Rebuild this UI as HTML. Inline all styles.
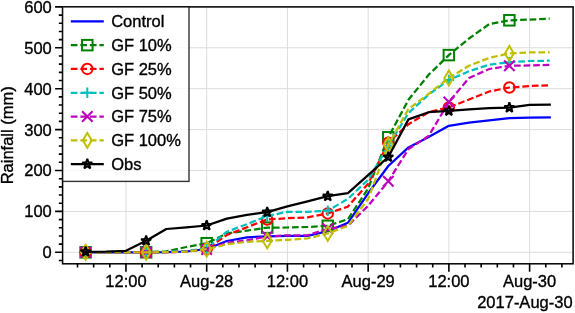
<!DOCTYPE html><html><head><meta charset="utf-8"><style>html,body{margin:0;padding:0;background:#fff;}svg{display:block;will-change:transform;}text{font-family:"Liberation Sans",sans-serif;stroke:#000;stroke-width:0.35px;}</style></head><body>
<svg width="575" height="313" viewBox="0 0 575 313">
<rect width="575" height="313" fill="#fff"/>
<path d="M62.60,252.30H573.10M62.60,211.40H573.10M62.60,170.50H573.10M62.60,129.60H573.10M62.60,88.70H573.10M62.60,47.80H573.10M62.60,6.90H573.10M125.96,6.90V263.80M206.69,6.90V263.80M287.42,6.90V263.80M368.15,6.90V263.80M448.88,6.90V263.80M529.61,6.90V263.80" stroke="#dcdcdc" stroke-width="1" fill="none"/>
<polyline points="85.60,252.30 105.78,252.30 125.96,252.30 146.14,252.30 166.32,252.20 186.50,251.50 206.68,249.00 226.86,241.00 247.04,237.30 267.22,236.30 287.40,235.80 307.58,235.80 327.76,231.20 347.94,222.80 368.12,193.30 388.30,166.00 408.48,147.40 428.66,137.00 448.84,125.80 469.02,122.60 489.20,120.40 509.38,118.10 529.56,117.70 549.74,117.50" fill="none" stroke="#0000ff" stroke-width="2.25" stroke-linecap="square" stroke-linejoin="round"/>
<polyline points="85.60,252.30 105.78,252.30 125.96,252.30 146.14,252.30 166.32,251.30 186.50,247.00 206.68,243.20 226.86,233.50 247.04,230.60 267.22,227.60 287.40,227.50 307.58,227.00 327.76,225.80 347.94,219.20 368.12,188.50 388.30,137.30 408.48,99.80 428.66,74.80 448.84,55.10 469.02,38.50 489.20,24.10 509.38,20.30 529.56,19.60 549.74,18.60" fill="none" stroke="#008000" stroke-width="2.25" stroke-dasharray="6.66,2.88" stroke-linejoin="round"/>
<rect x="80.35" y="247.05" width="10.5" height="10.5" fill="none" stroke="#008000" stroke-width="2.0"/>
<rect x="140.89" y="247.05" width="10.5" height="10.5" fill="none" stroke="#008000" stroke-width="2.0"/>
<rect x="201.43" y="237.95" width="10.5" height="10.5" fill="none" stroke="#008000" stroke-width="2.0"/>
<rect x="261.97" y="222.35" width="10.5" height="10.5" fill="none" stroke="#008000" stroke-width="2.0"/>
<rect x="322.51" y="220.55" width="10.5" height="10.5" fill="none" stroke="#008000" stroke-width="2.0"/>
<rect x="383.05" y="132.05" width="10.5" height="10.5" fill="none" stroke="#008000" stroke-width="2.0"/>
<rect x="443.59" y="49.85" width="10.5" height="10.5" fill="none" stroke="#008000" stroke-width="2.0"/>
<rect x="504.13" y="15.05" width="10.5" height="10.5" fill="none" stroke="#008000" stroke-width="2.0"/>
<polyline points="85.60,252.30 105.78,252.30 125.96,252.30 146.14,252.30 166.32,252.20 186.50,251.50 206.68,249.00 226.86,235.00 247.04,227.20 267.22,219.50 287.40,218.20 307.58,217.40 327.76,213.40 347.94,206.60 368.12,183.70 388.30,142.70 408.48,124.20 428.66,112.20 448.84,107.40 469.02,99.50 489.20,91.50 509.38,87.50 529.56,86.10 549.74,85.20" fill="none" stroke="#ff0000" stroke-width="2.25" stroke-dasharray="6.66,2.88" stroke-linejoin="round"/>
<circle cx="85.60" cy="252.30" r="5.25" fill="none" stroke="#ff0000" stroke-width="2.0"/>
<circle cx="146.14" cy="252.30" r="5.25" fill="none" stroke="#ff0000" stroke-width="2.0"/>
<circle cx="206.68" cy="249.00" r="5.25" fill="none" stroke="#ff0000" stroke-width="2.0"/>
<circle cx="267.22" cy="219.50" r="5.25" fill="none" stroke="#ff0000" stroke-width="2.0"/>
<circle cx="327.76" cy="213.40" r="5.25" fill="none" stroke="#ff0000" stroke-width="2.0"/>
<circle cx="388.30" cy="142.70" r="5.25" fill="none" stroke="#ff0000" stroke-width="2.0"/>
<circle cx="448.84" cy="107.40" r="5.25" fill="none" stroke="#ff0000" stroke-width="2.0"/>
<circle cx="509.38" cy="87.50" r="5.25" fill="none" stroke="#ff0000" stroke-width="2.0"/>
<polyline points="85.60,252.30 105.78,252.30 125.96,252.30 146.14,252.30 166.32,252.00 186.50,251.00 206.68,248.30 226.86,231.70 247.04,224.20 267.22,216.00 287.40,211.80 307.58,211.80 327.76,210.70 347.94,198.80 368.12,179.80 388.30,145.80 408.48,113.00 428.66,94.60 448.84,80.00 469.02,71.30 489.20,64.60 509.38,62.30 529.56,61.00 549.74,60.70" fill="none" stroke="#00bfbf" stroke-width="2.25" stroke-dasharray="6.66,2.88" stroke-linejoin="round"/>
<path d="M80.35,252.30H90.85M85.60,247.05V257.55" stroke="#00bfbf" stroke-width="2.0" fill="none"/>
<path d="M140.89,252.30H151.39M146.14,247.05V257.55" stroke="#00bfbf" stroke-width="2.0" fill="none"/>
<path d="M201.43,248.30H211.93M206.68,243.05V253.55" stroke="#00bfbf" stroke-width="2.0" fill="none"/>
<path d="M261.97,216.00H272.47M267.22,210.75V221.25" stroke="#00bfbf" stroke-width="2.0" fill="none"/>
<path d="M322.51,210.70H333.01M327.76,205.45V215.95" stroke="#00bfbf" stroke-width="2.0" fill="none"/>
<path d="M383.05,145.80H393.55M388.30,140.55V151.05" stroke="#00bfbf" stroke-width="2.0" fill="none"/>
<path d="M443.59,80.00H454.09M448.84,74.75V85.25" stroke="#00bfbf" stroke-width="2.0" fill="none"/>
<path d="M504.13,62.30H514.63M509.38,57.05V67.55" stroke="#00bfbf" stroke-width="2.0" fill="none"/>
<polyline points="85.60,252.30 105.78,252.30 125.96,252.30 146.14,252.30 166.32,252.20 186.50,251.60 206.68,249.50 226.86,242.80 247.04,240.30 267.22,236.50 287.40,235.30 307.58,235.30 327.76,228.80 347.94,225.70 368.12,205.80 388.30,181.30 408.48,149.00 428.66,136.00 448.84,102.00 469.02,78.00 489.20,69.00 509.38,65.80 529.56,65.40 549.74,64.90" fill="none" stroke="#bf00bf" stroke-width="2.25" stroke-dasharray="6.66,2.88" stroke-linejoin="round"/>
<path d="M80.35,247.05L90.85,257.55M80.35,257.55L90.85,247.05" stroke="#bf00bf" stroke-width="2.0" fill="none"/>
<path d="M140.89,247.05L151.39,257.55M140.89,257.55L151.39,247.05" stroke="#bf00bf" stroke-width="2.0" fill="none"/>
<path d="M201.43,244.25L211.93,254.75M201.43,254.75L211.93,244.25" stroke="#bf00bf" stroke-width="2.0" fill="none"/>
<path d="M261.97,231.25L272.47,241.75M261.97,241.75L272.47,231.25" stroke="#bf00bf" stroke-width="2.0" fill="none"/>
<path d="M322.51,223.55L333.01,234.05M322.51,234.05L333.01,223.55" stroke="#bf00bf" stroke-width="2.0" fill="none"/>
<path d="M383.05,176.05L393.55,186.55M383.05,186.55L393.55,176.05" stroke="#bf00bf" stroke-width="2.0" fill="none"/>
<path d="M443.59,96.75L454.09,107.25M443.59,107.25L454.09,96.75" stroke="#bf00bf" stroke-width="2.0" fill="none"/>
<path d="M504.13,60.55L514.63,71.05M504.13,71.05L514.63,60.55" stroke="#bf00bf" stroke-width="2.0" fill="none"/>
<polyline points="85.60,252.30 105.78,252.30 125.96,252.30 146.14,252.30 166.32,252.20 186.50,251.60 206.68,249.20 226.86,244.30 247.04,241.80 267.22,240.80 287.40,239.80 307.58,238.50 327.76,233.50 347.94,225.80 368.12,199.00 388.30,144.80 408.48,109.00 428.66,93.80 448.84,78.00 469.02,65.70 489.20,57.90 509.38,53.40 529.56,52.40 549.74,52.30" fill="none" stroke="#bfbf00" stroke-width="2.25" stroke-dasharray="6.66,2.88" stroke-linejoin="round"/>
<path d="M85.60,244.88L90.05,252.30L85.60,259.72L81.15,252.30Z" stroke="#bfbf00" stroke-width="2.0" fill="none" stroke-linejoin="miter"/>
<path d="M146.14,244.88L150.59,252.30L146.14,259.72L141.69,252.30Z" stroke="#bfbf00" stroke-width="2.0" fill="none" stroke-linejoin="miter"/>
<path d="M206.68,241.78L211.13,249.20L206.68,256.62L202.23,249.20Z" stroke="#bfbf00" stroke-width="2.0" fill="none" stroke-linejoin="miter"/>
<path d="M267.22,233.38L271.67,240.80L267.22,248.22L262.77,240.80Z" stroke="#bfbf00" stroke-width="2.0" fill="none" stroke-linejoin="miter"/>
<path d="M327.76,226.08L332.21,233.50L327.76,240.92L323.31,233.50Z" stroke="#bfbf00" stroke-width="2.0" fill="none" stroke-linejoin="miter"/>
<path d="M388.30,137.38L392.75,144.80L388.30,152.22L383.85,144.80Z" stroke="#bfbf00" stroke-width="2.0" fill="none" stroke-linejoin="miter"/>
<path d="M448.84,70.58L453.29,78.00L448.84,85.42L444.39,78.00Z" stroke="#bfbf00" stroke-width="2.0" fill="none" stroke-linejoin="miter"/>
<path d="M509.38,45.98L513.83,53.40L509.38,60.82L504.93,53.40Z" stroke="#bfbf00" stroke-width="2.0" fill="none" stroke-linejoin="miter"/>
<polyline points="85.60,251.80 105.78,251.60 125.96,250.80 146.14,240.80 166.32,229.00 186.50,227.30 206.68,225.50 226.86,218.60 247.04,214.80 267.22,212.20 287.40,206.30 307.58,201.40 327.76,196.20 347.94,193.20 368.12,175.20 388.30,157.00 408.48,119.40 428.66,112.20 448.84,110.90 469.02,109.30 489.20,108.20 509.38,107.60 529.56,104.90 549.74,104.70" fill="none" stroke="#000000" stroke-width="2.25" stroke-linecap="square" stroke-linejoin="round"/>
<polygon points="85.60,246.55 84.42,250.18 80.61,250.18 83.69,252.42 82.51,256.05 85.60,253.81 88.69,256.05 87.51,252.42 90.59,250.18 86.78,250.18" stroke="#000000" stroke-width="2.0" fill="none" stroke-linejoin="bevel"/>
<polygon points="146.14,235.55 144.96,239.18 141.15,239.18 144.23,241.42 143.05,245.05 146.14,242.81 149.23,245.05 148.05,241.42 151.13,239.18 147.32,239.18" stroke="#000000" stroke-width="2.0" fill="none" stroke-linejoin="bevel"/>
<polygon points="206.68,220.25 205.50,223.88 201.69,223.88 204.77,226.12 203.59,229.75 206.68,227.51 209.77,229.75 208.59,226.12 211.67,223.88 207.86,223.88" stroke="#000000" stroke-width="2.0" fill="none" stroke-linejoin="bevel"/>
<polygon points="267.22,206.95 266.04,210.58 262.23,210.58 265.31,212.82 264.13,216.45 267.22,214.21 270.31,216.45 269.13,212.82 272.21,210.58 268.40,210.58" stroke="#000000" stroke-width="2.0" fill="none" stroke-linejoin="bevel"/>
<polygon points="327.76,190.95 326.58,194.58 322.77,194.58 325.85,196.82 324.67,200.45 327.76,198.21 330.85,200.45 329.67,196.82 332.75,194.58 328.94,194.58" stroke="#000000" stroke-width="2.0" fill="none" stroke-linejoin="bevel"/>
<polygon points="388.30,151.75 387.12,155.38 383.31,155.38 386.39,157.62 385.21,161.25 388.30,159.01 391.39,161.25 390.21,157.62 393.29,155.38 389.48,155.38" stroke="#000000" stroke-width="2.0" fill="none" stroke-linejoin="bevel"/>
<polygon points="448.84,105.65 447.66,109.28 443.85,109.28 446.93,111.52 445.75,115.15 448.84,112.91 451.93,115.15 450.75,111.52 453.83,109.28 450.02,109.28" stroke="#000000" stroke-width="2.0" fill="none" stroke-linejoin="bevel"/>
<polygon points="509.38,102.35 508.20,105.98 504.39,105.98 507.47,108.22 506.29,111.85 509.38,109.61 512.47,111.85 511.29,108.22 514.37,105.98 510.56,105.98" stroke="#000000" stroke-width="2.0" fill="none" stroke-linejoin="bevel"/>
<path d="M55.10,252.30H62.60M55.10,211.40H62.60M55.10,170.50H62.60M55.10,129.60H62.60M55.10,88.70H62.60M55.10,47.80H62.60M55.10,6.90H62.60M58.80,260.48H62.60M58.80,244.12H62.60M58.80,235.94H62.60M58.80,227.76H62.60M58.80,219.58H62.60M58.80,203.22H62.60M58.80,195.04H62.60M58.80,186.86H62.60M58.80,178.68H62.60M58.80,162.32H62.60M58.80,154.14H62.60M58.80,145.96H62.60M58.80,137.78H62.60M58.80,121.42H62.60M58.80,113.24H62.60M58.80,105.06H62.60M58.80,96.88H62.60M58.80,80.52H62.60M58.80,72.34H62.60M58.80,64.16H62.60M58.80,55.98H62.60M58.80,39.62H62.60M58.80,31.44H62.60M58.80,23.26H62.60M58.80,15.08H62.60M125.96,263.80V271.80M206.69,263.80V271.80M287.42,263.80V271.80M368.15,263.80V271.80M448.88,263.80V271.80M529.61,263.80V271.80M77.52,263.80V267.60M93.67,263.80V267.60M109.81,263.80V267.60M142.11,263.80V267.60M158.25,263.80V267.60M174.40,263.80V267.60M190.54,263.80V267.60M222.84,263.80V267.60M238.98,263.80V267.60M255.13,263.80V267.60M271.27,263.80V267.60M303.57,263.80V267.60M319.71,263.80V267.60M335.86,263.80V267.60M352.00,263.80V267.60M384.30,263.80V267.60M400.44,263.80V267.60M416.59,263.80V267.60M432.73,263.80V267.60M465.03,263.80V267.60M481.17,263.80V267.60M497.32,263.80V267.60M513.46,263.80V267.60M545.76,263.80V267.60M561.90,263.80V267.60" stroke="#000" stroke-width="1.6" fill="none"/>
<rect x="62.6" y="6.9" width="510.50" height="256.90" fill="none" stroke="#000" stroke-width="1.5"/>
<rect x="62.6" y="6.9" width="126.40" height="174.50" fill="#fff" fill-opacity="0.8" stroke="#000" stroke-opacity="0.8" stroke-width="1.4"/>
<path d="M70.8,21.35H103.8" stroke="#0000ff" stroke-width="2.25" fill="none"/>
<text x="111.2" y="27.25" font-size="16.5" fill="#000">Control</text>
<path d="M70.8,45.15H103.8" stroke="#008000" stroke-width="2.25" fill="none" stroke-dasharray="6.66,2.88"/>
<rect x="82.05" y="39.90" width="10.5" height="10.5" fill="none" stroke="#008000" stroke-width="2.0"/>
<text x="111.2" y="51.05" font-size="16.5" fill="#000">GF 10%</text>
<path d="M70.8,68.95H103.8" stroke="#ff0000" stroke-width="2.25" fill="none" stroke-dasharray="6.66,2.88"/>
<circle cx="87.30" cy="68.95" r="5.25" fill="none" stroke="#ff0000" stroke-width="2.0"/>
<text x="111.2" y="74.85" font-size="16.5" fill="#000">GF 25%</text>
<path d="M70.8,92.75H103.8" stroke="#00bfbf" stroke-width="2.25" fill="none" stroke-dasharray="6.66,2.88"/>
<path d="M82.05,92.75H92.55M87.30,87.50V98.00" stroke="#00bfbf" stroke-width="2.0" fill="none"/>
<text x="111.2" y="98.65" font-size="16.5" fill="#000">GF 50%</text>
<path d="M70.8,116.55H103.8" stroke="#bf00bf" stroke-width="2.25" fill="none" stroke-dasharray="6.66,2.88"/>
<path d="M82.05,111.30L92.55,121.80M82.05,121.80L92.55,111.30" stroke="#bf00bf" stroke-width="2.0" fill="none"/>
<text x="111.2" y="122.45" font-size="16.5" fill="#000">GF 75%</text>
<path d="M70.8,140.35H103.8" stroke="#bfbf00" stroke-width="2.25" fill="none" stroke-dasharray="6.66,2.88"/>
<path d="M87.30,132.93L91.75,140.35L87.30,147.77L82.85,140.35Z" stroke="#bfbf00" stroke-width="2.0" fill="none" stroke-linejoin="miter"/>
<text x="111.2" y="146.25" font-size="16.5" fill="#000">GF 100%</text>
<path d="M70.8,164.15H103.8" stroke="#000000" stroke-width="2.25" fill="none"/>
<polygon points="87.30,158.90 86.12,162.53 82.31,162.53 85.39,164.77 84.21,168.40 87.30,166.16 90.39,168.40 89.21,164.77 92.29,162.53 88.48,162.53" stroke="#000000" stroke-width="2.0" fill="none" stroke-linejoin="bevel"/>
<text x="111.2" y="170.05" font-size="16.5" fill="#000">Obs</text>
<text x="51.8" y="258.20" font-size="16.5" text-anchor="end" fill="#000">0</text>
<text x="51.8" y="217.30" font-size="16.5" text-anchor="end" fill="#000">100</text>
<text x="51.8" y="176.40" font-size="16.5" text-anchor="end" fill="#000">200</text>
<text x="51.8" y="135.50" font-size="16.5" text-anchor="end" fill="#000">300</text>
<text x="51.8" y="94.60" font-size="16.5" text-anchor="end" fill="#000">400</text>
<text x="51.8" y="53.70" font-size="16.5" text-anchor="end" fill="#000">500</text>
<text x="51.8" y="12.80" font-size="16.5" text-anchor="end" fill="#000">600</text>
<text x="125.96" y="287.1" font-size="16.5" text-anchor="middle" fill="#000">12:00</text>
<text x="206.69" y="287.1" font-size="16.5" text-anchor="middle" fill="#000">Aug-28</text>
<text x="287.42" y="287.1" font-size="16.5" text-anchor="middle" fill="#000">12:00</text>
<text x="368.15" y="287.1" font-size="16.5" text-anchor="middle" fill="#000">Aug-29</text>
<text x="448.88" y="287.1" font-size="16.5" text-anchor="middle" fill="#000">12:00</text>
<text x="529.61" y="287.1" font-size="16.5" text-anchor="middle" fill="#000">Aug-30</text>
<text x="572.6" y="307.8" font-size="16.5" text-anchor="end" fill="#000">2017-Aug-30</text>
<text transform="translate(12.6,135.3) rotate(-90)" font-size="16.5" text-anchor="middle" fill="#000">Rainfall (mm)</text>
</svg></body></html>
